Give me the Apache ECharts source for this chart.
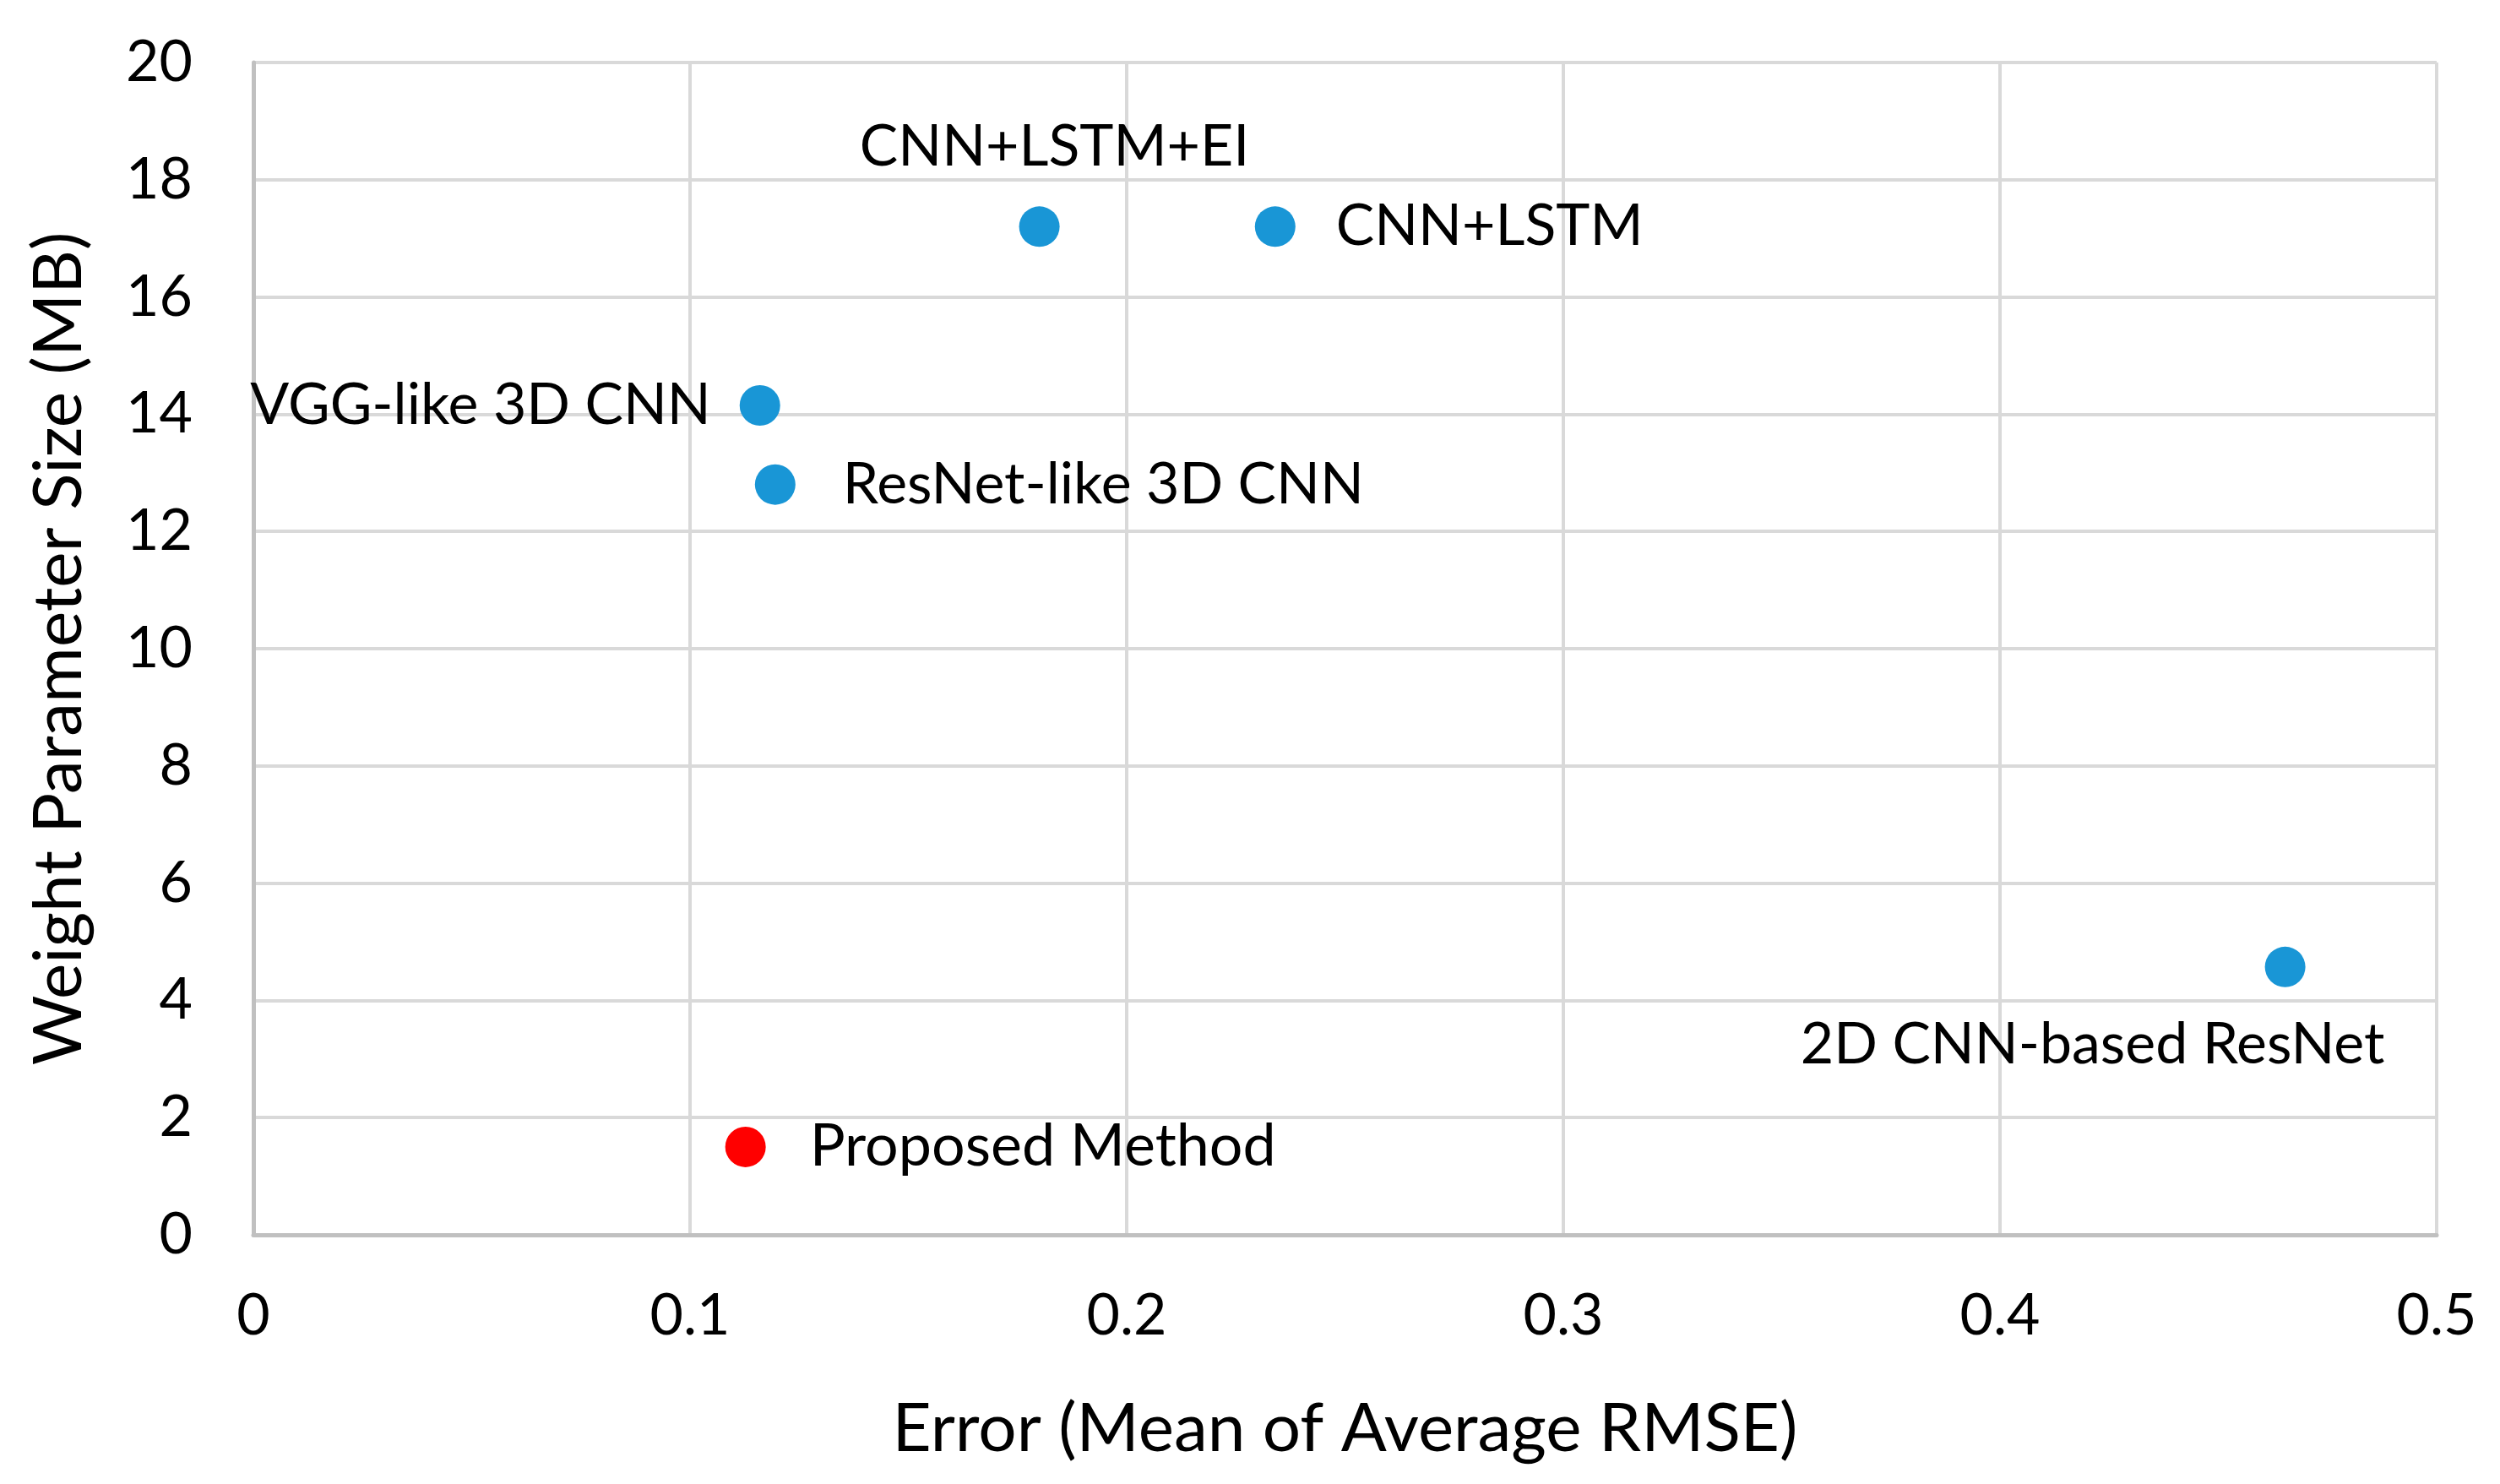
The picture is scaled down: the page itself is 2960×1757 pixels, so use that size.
<!DOCTYPE html>
<html><head><meta charset="utf-8">
<script src="https://cdn.jsdelivr.net/npm/echarts@6/dist/echarts.min.js"></script>
<style>html,body{margin:0;padding:0;background:#fff}#c{width:2960px;height:1757px}</style>
</head><body><div id="c"></div>
<script>
const names = ["CNN+LSTM+EI","CNN+LSTM","VGG-like 3D CNN","ResNet-like 3D CNN","Proposed Method","2D CNN-based ResNet"];
const errors = [0.180, 0.234, 0.116, 0.1195, 0.1127, 0.4653];
const sizes = [17.2, 17.2, 14.15, 12.8, 1.5, 4.57];
const xTicks = [0, 0.1, 0.2, 0.3, 0.4, 0.5];
const yTicks = [0, 2, 4, 6, 8, 10, 12, 14, 16, 18, 20];

const FONT = 'Lato';
const blue = '#1996d6';
const labelStyles = [
  {position:'top', distance:36, offset:[18,0]},
  {position:'right', distance:48},
  {position:'left', distance:34},
  {position:'right', distance:56},
  {position:'right', distance:52, fontSize:70},
  {position:'bottom', distance:34, offset:[-228,0]}
];
const data = names.map((n,i)=>({
  name:n, value:[errors[i], sizes[i]],
  itemStyle:{color: n==='Proposed Method' ? '#ff0000' : blue, opacity:1},
  label:Object.assign({show:true, formatter:n, color:'#000', fontFamily:FONT, fontSize:68}, labelStyles[i])
}));

const chart = echarts.init(document.getElementById('c'));
chart.setOption({
  backgroundColor:'#fff',
  animation:false,
  grid:{left:300, right:75, top:74, bottom:295},
  xAxis:{type:'value', min:0, max:0.5, interval:0.1,
    name:'Error (Mean of Average RMSE)', nameLocation:'middle', nameGap:190,
    nameTextStyle:{fontFamily:FONT, fontSize:80, color:'#000'},
    axisLine:{show:true, lineStyle:{color:'#c0c0c0', width:5}},
    axisTick:{show:false},
    axisLabel:{fontFamily:FONT, fontSize:68, color:'#000', margin:62,
      formatter:v=>{const t=xTicks.find(k=>Math.abs(k-v)<1e-9); return t===undefined?'':String(t);}},
    splitLine:{show:true, lineStyle:{color:'#d9d9d9', width:4}}
  },
  yAxis:{type:'value', min:0, max:20, interval:2,
    name:'Weight Parameter Size (MB)', nameLocation:'middle', nameGap:190, nameRotate:90,
    nameTextStyle:{fontFamily:FONT, fontSize:80, color:'#000'},
    axisLine:{show:true, lineStyle:{color:'#c0c0c0', width:5}},
    axisTick:{show:false},
    axisLabel:{fontFamily:FONT, fontSize:68, color:'#000', margin:72,
      formatter:v=>{const t=yTicks.find(k=>Math.abs(k-v)<1e-9); return t===undefined?'':String(t);}},
    splitLine:{show:true, lineStyle:{color:'#d9d9d9', width:4}}
  },
  series:[{type:'scatter', symbolSize:48, data:data}]
});
</script></body></html>
